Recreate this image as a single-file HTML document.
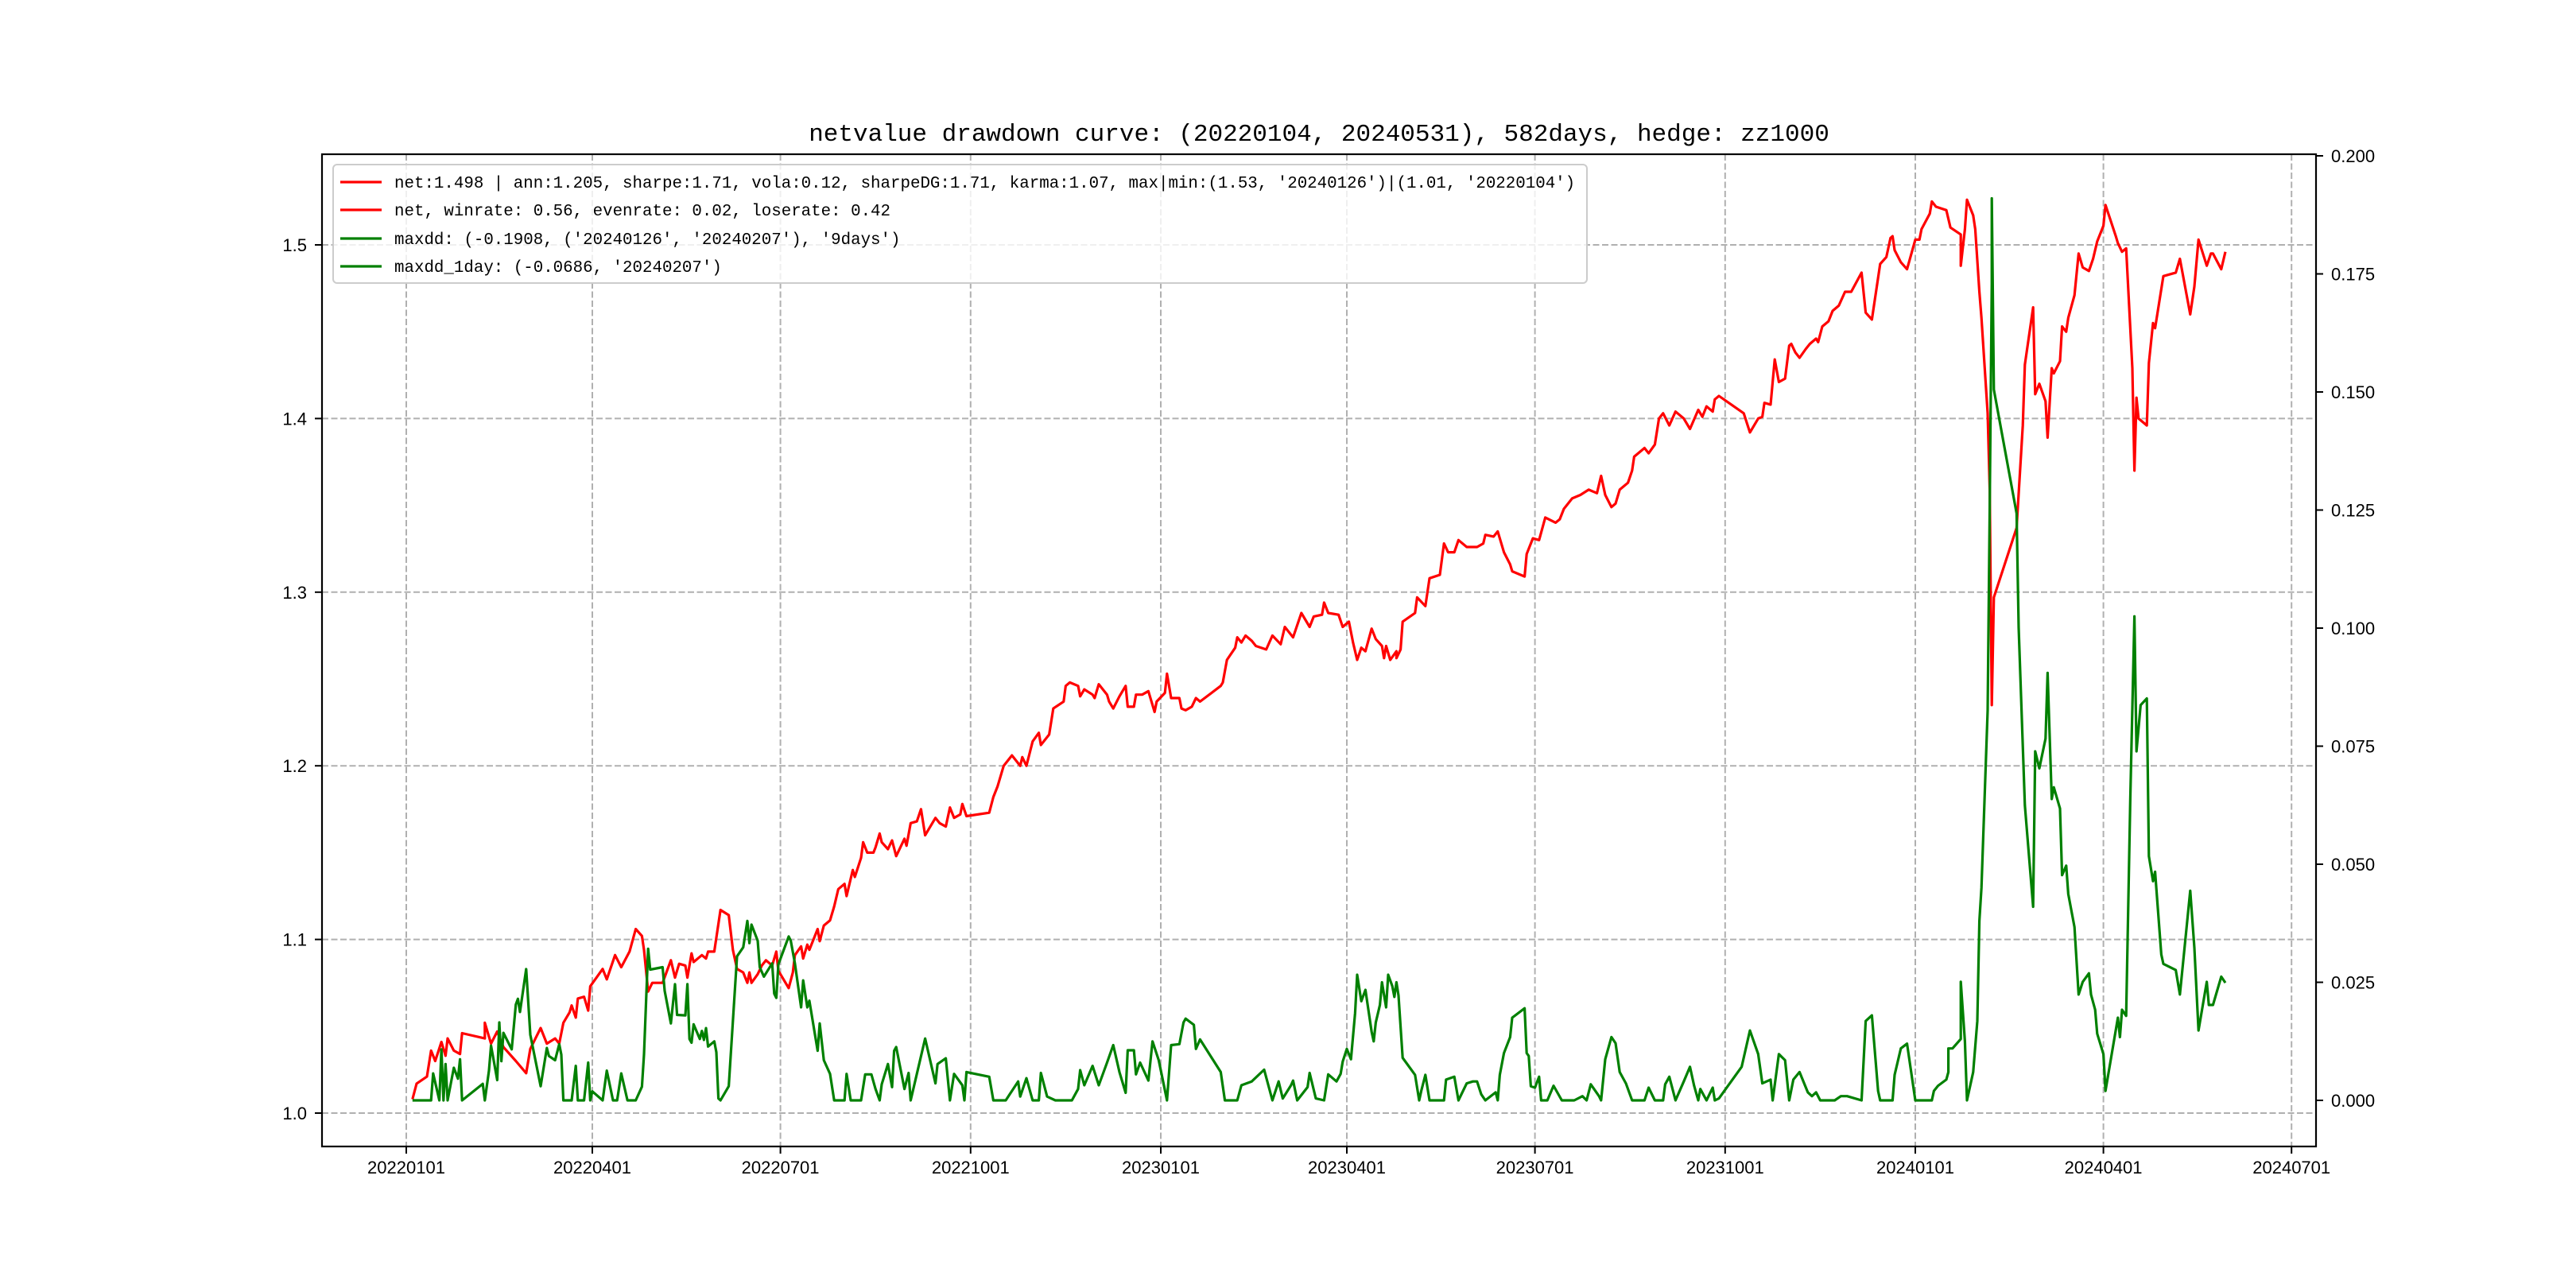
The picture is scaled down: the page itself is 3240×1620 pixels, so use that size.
<!DOCTYPE html>
<html><head><meta charset="utf-8">
<style>
html,body{margin:0;padding:0;background:#fff;}
svg{display:block;}
text{font-family:"Liberation Sans","Noto Sans CJK SC",sans-serif;fill:#000;}
.mono{font-family:"Liberation Mono","Noto Sans CJK SC",monospace;}
</style></head>
<body>
<svg id="chart" width="3240" height="1620" viewBox="0 0 3240 1620" xmlns="http://www.w3.org/2000/svg">
<rect x="0" y="0" width="3240" height="1620" fill="#fff"/>
<text class="mono" x="1659" y="177" font-size="31" text-anchor="middle">netvalue drawdown curve: (20220104, 20240531), 582days, hedge: zz1000</text>
<g id="grid"></g>
<g id="series"></g>
<g id="axes"></g>
<g id="legend"></g>
</svg>
<script>
// x values: days since 2022-01-01
const xTickDays = [0, 90, 181, 273, 365, 455, 546, 638, 730, 821, 912];
const xTickLabels = ['20220101','20220401','20220701','20221001','20230101','20230401','20230701','20231001','20240101','20240401','20240701'];
const leftTicks = [1.0, 1.1, 1.2, 1.3, 1.4, 1.5];
const leftTickLabels = ['1.0','1.1','1.2','1.3','1.4','1.5'];
const rightTicks = [0, 0.025, 0.05, 0.075, 0.1, 0.125, 0.15, 0.175, 0.2];
const rightTickLabels = ['0.000','0.025','0.050','0.075','0.100','0.125','0.150','0.175','0.200'];

const netDays = [3,5,10,12,14,17,19,20,23,26,27,38,38,41,44,47,53,58,60,65,68,72,74,76,79,80,82,83,86,88,89,95,97,101,104,108,111,114,115,117,119,124,128,130,132,135,136,138,139,143,145,146,149,152,156,158,160,163,165,166,167,170,172,174,177,179,180,185,187,
188,191,192,194,195,199,200,202,205,207,209,212,213,216,217,220,221,223,226,227,229,230,233,235,237,241,242,244,247,249,251,256,258,261,263,265,268,269,271,282,284,286,289,293,297,298,300,303,306,307,311,313,318,319,321,325,326,328,332,333,335,339,340,342,345,348,349,352,353,356,359,362,363,367,368,370,374,375,377,380,382,384,394,395,397,401,402,404,406,409,411,416,419,423,425,429,433,437,439,443,444,446,451,453,456,458,460,462,464,467,469,472,473,474,476,479,479,481,482,
488,489,493,495,500,502,504,507,509,513,518,521,522,526,528,531,534,535,541,542,545,548,551,556,558,560,564,568,572,576,578,580,583,585,587,591,593,594,599,601,604,606,608,611,614,618,621,625,627,629,632,633,635,647,650,654,656,657,660,662,664,667,669,670,672,674,677,679,682,683,685,688,690,693,696,699,704,706,
709,713,716,718,719,720,723,726,730,732,733,737,738,740,745,747,752,752,754,755,758,759,761,762,765,766,767,768,779,782,783,787,788,790,793,794,796,797,800,801,803,804,807,809,811,814,816,818,821,822,827,828,830,832,835,836,837,838,842,843,845,846,850,856,858,863,865,867,871,873,874,878,880];
const netValues = [1.008,1.017,1.021,1.036,1.030,1.041,1.033,1.043,1.036,1.034,1.046,1.043,1.052,1.040,1.047,1.038,1.030,1.023,1.037,1.049,1.040,1.043,1.040,1.052,1.058,1.062,1.055,1.066,1.067,1.059,1.073,1.083,1.077,1.091,1.084,1.093,1.106,1.102,1.094,1.070,1.075,1.075,1.088,1.078,1.086,1.085,1.078,1.092,1.087,1.091,1.089,1.093,1.093,1.117,1.114,1.094,1.083,1.081,1.075,1.081,1.075,1.080,1.085,1.088,1.085,1.093,1.082,1.072,1.081,
1.091,1.096,1.089,1.097,1.094,1.106,1.099,1.108,1.111,1.119,1.129,1.132,1.125,1.140,1.136,1.147,1.156,1.150,1.150,1.153,1.161,1.156,1.152,1.157,1.148,1.158,1.154,1.167,1.168,1.175,1.160,1.170,1.167,1.165,1.176,1.170,1.172,1.178,1.171,1.173,1.182,1.188,1.200,1.206,1.200,1.205,1.200,1.214,1.219,1.212,1.218,1.233,1.237,1.246,1.248,1.246,1.240,1.244,1.241,1.239,1.247,1.241,1.237,1.233,1.240,1.246,1.234,1.234,1.241,1.241,1.243,1.231,1.237,1.242,1.253,1.239,1.239,1.233,1.232,1.234,1.239,1.237,1.246,1.248,1.261,1.268,1.274,1.271,1.275,1.272,1.269,1.267,1.275,1.270,1.280,1.274,1.288,1.280,1.286,1.287,1.294,1.288,1.287,1.280,1.283,1.271,1.261,1.268,1.266,1.279,1.273,1.269,1.262,1.269,1.261,1.266,1.262,1.267,1.283,
1.288,1.297,1.292,1.308,1.310,1.328,1.323,1.323,1.330,1.326,1.326,1.328,1.333,1.332,1.335,1.323,1.316,1.312,1.309,1.322,1.331,1.330,1.343,1.340,1.342,1.348,1.354,1.356,1.359,1.357,1.367,1.356,1.349,1.351,1.359,1.363,1.370,1.378,1.383,1.380,1.385,1.400,1.403,1.396,1.404,1.400,1.394,1.405,1.401,1.407,1.404,1.411,1.413,1.403,1.392,1.400,1.401,1.409,1.408,1.434,1.421,1.423,1.442,1.443,1.438,1.435,1.440,1.443,1.446,1.444,1.453,1.456,1.462,1.465,1.473,1.473,1.484,1.461,
1.457,1.489,1.493,1.504,1.505,1.497,1.490,1.486,1.503,1.503,1.509,1.518,1.525,1.522,1.520,1.510,1.506,1.488,1.509,1.526,1.517,1.509,1.473,1.458,1.403,1.359,1.235,1.297,1.337,1.396,1.431,1.464,1.414,1.420,1.410,1.389,1.429,1.426,1.433,1.453,1.450,1.458,1.471,1.495,1.487,1.485,1.492,1.502,1.511,1.523,1.505,1.501,1.496,1.498,1.429,1.370,1.412,1.400,1.396,1.432,1.455,1.452,1.482,1.484,1.492,1.460,1.476,1.503,1.488,1.495,1.495,1.486,1.496];

const ddDays = [3,12,13,16,17,18,19,20,23,25,26,27,37,38,40,41,44,45,46,47,51,53,54,55,58,60,65,68,69,72,74,75,76,80,82,83,86,88,89,90,95,97,100,102,104,107,111,114,115,117,118,124,125,128,130,131,135,136,137,138,139,142,143,144,145,146,149,150,151,152,156,160,163,165,166,167,170,171,173,177,178,179,180,185,186,
188,191,192,194,195,199,200,202,205,207,212,213,215,220,222,225,227,229,230,233,235,236,237,241,243,244,251,256,257,261,263,265,269,270,271,282,284,290,296,297,300,303,306,307,310,314,318,322,325,326,328,332,335,339,342,345,348,349,352,353,355,359,361,364,368,370,374,376,377,381,382,384,394,396,402,404,409,415,419,422,424,428,429,431,436,437,440,444,446,450,452,453,455,457,459,460,462,464,467,468,469,471,472,474,475,477,478,479,480,482,
488,490,491,493,495,502,503,507,509,513,516,518,520,522,527,528,529,531,534,535,541,542,543,544,546,548,549,552,555,559,565,569,571,573,577,578,580,583,585,587,590,593,599,601,604,608,609,611,614,618,621,623,625,626,629,632,633,635,646,650,654,656,660,661,664,667,669,671,674,678,680,682,684,691,694,697,704,706,
709,712,713,719,720,723,726,730,733,738,739,741,745,746,746,748,752,752,754,755,758,760,761,762,765,766,767,767,768,779,780,783,787,788,790,793,794,796,797,800,801,803,804,807,809,811,814,815,817,818,821,822,828,829,830,832,834,836,837,839,842,843,845,846,849,850,856,858,863,865,867,871,872,874,878,880];
const ddValues = [0,0,0.0057,0,0.0108,0,0.0077,0,0.0069,0.0046,0.0087,0,0.0035,0,0.0063,0.0116,0.0043,0.0165,0.0083,0.0143,0.0108,0.0203,0.0215,0.0187,0.0278,0.0139,0.003,0.0111,0.0094,0.0085,0.0119,0.0097,0,0,0.0073,0,0,0.008,0,0.0019,0,0.0063,0,0,0.0057,0,0,0.0029,0.0097,0.0321,0.0277,0.0282,0.0232,0.0163,0.0246,0.0181,0.018,0.0246,0.013,0.0122,0.0161,0.013,0.0147,0.0128,0.0153,0.0114,0.0125,0.0102,0.0004,0,0.003,0.0305,0.0324,0.038,0.0333,0.0372,0.0338,0.0282,0.0262,0.029,0.0226,0.0217,0.0288,0.0347,0.0338,
0.029,0.0197,0.0254,0.0197,0.0211,0.0105,0.0163,0.0085,0.0056,0,0,0.0056,0,0,0.0055,0.0055,0.0024,0,0.0034,0.0077,0.0028,0.0105,0.0113,0.0024,0.0058,0,0.0131,0.0036,0.0077,0.0089,0,0.0056,0.0032,0,0.006,0.005,0,0,0.004,0.0008,0.0047,0,0,0.0058,0.0008,0,0,0,0.0024,0.0064,0.0032,0.0073,0.0032,0.008,0.0117,0.006,0.0016,0.0106,0.0106,0.0055,0.008,0.0042,0.0125,0.0085,0,0.0117,0.0119,0.0165,0.0173,0.016,0.0109,0.0129,0.006,0,0,0.0032,0.004,0.0065,0,0.004,0.0004,0.0032,0.0042,0,0.0028,0.0058,0.0004,0,0.0055,0.004,0.0056,0.0082,0.0109,0.0087,0.0185,0.0266,0.021,0.0234,0.0145,0.0125,0.0165,0.0202,0.025,0.0197,0.0266,0.0242,0.0219,0.025,0.0222,0.009,
0.0054,0,0.002,0.0054,0,0,0.0044,0.005,0,0.0036,0.004,0.004,0.0013,0,0.0017,0,0.0054,0.01,0.0134,0.0175,0.0195,0.01,0.0094,0.003,0.0027,0.005,0,0,0.0031,0,0,0.0009,0,0.0034,0.0009,0,0.0087,0.0134,0.0121,0.006,0.0036,0,0,0.0027,0,0,0.0034,0.005,0,0.004,0.0071,0.0031,0,0.0024,0,0.0027,0,0.0004,0.0071,0.0148,0.0098,0.0036,0.0044,0,0.0098,0.0085,0,0.0044,0.006,0.0017,0.0009,0.0017,0,0,0.0009,0.0009,0,0.0168,
0.018,0.002,0,0,0.0054,0.011,0.012,0,0,0,0.002,0.0031,0.0044,0.006,0.011,0.011,0.013,0.0251,0.0125,0,0.006,0.0168,0.038,0.045,0.0826,0.1257,0.173,0.191,0.1505,0.1243,0.1001,0.0625,0.041,0.0739,0.0703,0.0766,0.0905,0.0638,0.0663,0.0618,0.0477,0.0497,0.0437,0.0367,0.0224,0.0251,0.0269,0.0224,0.0192,0.0141,0.0098,0.002,0.0175,0.0134,0.0192,0.0179,0.0638,0.1025,0.0739,0.0837,0.0851,0.0517,0.0464,0.0484,0.0309,0.0289,0.0276,0.0224,0.0444,0.0323,0.0148,0.0251,0.0202,0.0202,0.0262,0.0249];

const PL = 405, PR = 2913, PT = 194, PB = 1442;
function xS(d){ return 511 + d * 2.6; }
function yL(v){ return 1400 - (v - 1) * 2184; }
function yR(v){ return 1384 - v * 5940; }
const NS = 'http://www.w3.org/2000/svg';
function mk(tag, attrs, parent){
  const e = document.createElementNS(NS, tag);
  for (const k in attrs) e.setAttribute(k, attrs[k]);
  parent.appendChild(e);
  return e;
}
const grid = document.getElementById('grid');
const series = document.getElementById('series');
const axes = document.getElementById('axes');
const legend = document.getElementById('legend');

xTickDays.forEach((d, i) => {
  const x = xS(d);
  const g = mk('line', {x1:x, x2:x, y1:PT, y2:PB, stroke:'#b0b0b0', 'stroke-width':2, 'stroke-dasharray':'8,3.5'}, grid);
  
  
  const t = mk('line', {x1:x, x2:x, y1:PB, y2:PB+9, stroke:'#000', 'stroke-width':2}, axes);
  
  
  const l = mk('text', {x:x, y:1476, 'font-size':22, 'text-anchor':'middle'}, axes);
  l.textContent = xTickLabels[i];
  
  
});
leftTicks.forEach((v, i) => {
  const y = yL(v);
  const g = mk('line', {x1:PL, x2:PR, y1:y, y2:y, stroke:'#b0b0b0', 'stroke-width':2, 'stroke-dasharray':'8,3.5'}, grid);
  
  
  const t = mk('line', {x1:PL-9, x2:PL, y1:y, y2:y, stroke:'#000', 'stroke-width':2}, axes);
  
  
  const l = mk('text', {x:386, y:y+8, 'font-size':22, 'text-anchor':'end'}, axes);
  l.textContent = leftTickLabels[i];
  
  
});
rightTicks.forEach((v, i) => {
  const y = yR(v);
  const t = mk('line', {x1:PR, x2:PR+9, y1:y, y2:y, stroke:'#000', 'stroke-width':2}, axes);
  
  
  const l = mk('text', {x:2932, y:y+8, 'font-size':22, 'text-anchor':'start'}, axes);
  l.textContent = rightTickLabels[i];
  
  
});

const netPts = netDays.map((d, i) => xS(d).toFixed(1) + ',' + yL(netValues[i]).toFixed(1)).join(' ');
const netLine = mk('polyline', {points:netPts, fill:'none', stroke:'#ff0000', 'stroke-width':3.2, 'stroke-linejoin':'round'}, series);


const ddPts = ddDays.map((d, i) => xS(d).toFixed(1) + ',' + yR(ddValues[i]).toFixed(1)).join(' ');
const ddLine = mk('polyline', {points:ddPts, fill:'none', stroke:'#008000', 'stroke-width':3.2, 'stroke-linejoin':'round'}, series);



const frame = mk('rect', {x:PL, y:PT, width:PR-PL, height:PB-PT, fill:'none', stroke:'#000', 'stroke-width':2.2}, axes);



const box = mk('rect', {x:419, y:207, width:1577, height:149, rx:5, fill:'#fff', 'fill-opacity':0.8, stroke:'#cccccc', 'stroke-width':2}, legend);


const legendLabels = [
  "net:1.498 | ann:1.205, sharpe:1.71, vola:0.12, sharpeDG:1.71, karma:1.07, max|min:(1.53, '20240126')|(1.01, '20220104')",
  "net, winrate: 0.56, evenrate: 0.02, loserate: 0.42",
  "maxdd: (-0.1908, ('20240126', '20240207'), '9days')",
  "maxdd_1day: (-0.0686, '20240207')"
];
const legendColors = ['#ff0000','#ff0000','#008000','#008000'];
const legendRows = [229, 264, 300, 335];
legendLabels.forEach((s, i) => {
  const y = legendRows[i];
  const h = mk('line', {x1:428, x2:480, y1:y, y2:y, stroke:legendColors[i], 'stroke-width':3.2}, legend);
  
  
  const t = mk('text', {x:496, y:y+7, 'font-size':20.8, 'class':'mono'}, legend);
  t.textContent = s;
  
  
});
</script>
</body></html>
